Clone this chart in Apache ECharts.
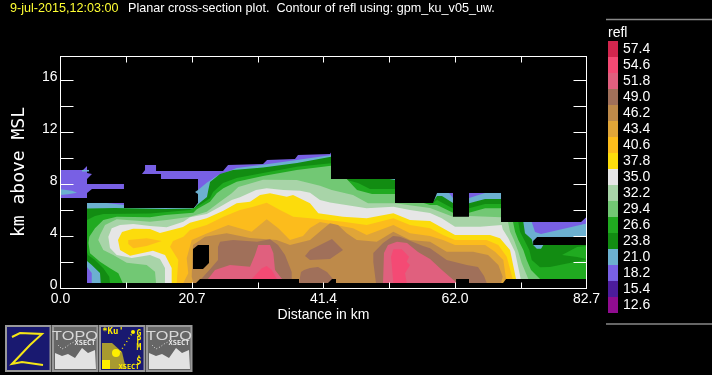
<!DOCTYPE html>
<html><head><meta charset="utf-8">
<style>html,body{margin:0;padding:0;background:#000}#c{width:712px;height:375px}</style>
<script src="https://cdn.jsdelivr.net/npm/echarts@6/dist/echarts.min.js"></script>
</head><body><div id="c"></div>
<script>
const titleDate = "9-jul-2015,12:03:00";
const titleText = "Planar cross-section plot.  Contour of refl using: gpm_ku_v05_uw.";
const xTickLabels = ["0.0","","20.7","","41.4","","62.0","","82.7"];
const yTickLabels = {0:"0",4:"4",8:"8",12:"12",16:"16"};
const legendLevels = ["57.4","54.6","51.8","49.0","46.2","43.4","40.6","37.8","35.0","32.2","29.4","26.6","23.8","21.0","18.2","15.4","12.6"];
const legendColors = ["#d2264e","#f44a74","#e0607e","#a0705a","#be8a4a","#e0a538","#fcbc1c","#fcdc0c","#e6e6e6","#a8d4a8","#72c874","#20aa20","#128c12","#6cb0d0","#7860e4","#4c1c9c","#900c90"];

// Contour regions, [distance km, height km], each region holds values >= its level
const band18 = [
 [[0,9.12],[3.54,9.12],[4.17,9.42],[4.17,8.88],[4.95,8.81],[4.17,8.42],[4.17,8.04],[9.98,8.04],[9.98,7.65],[4.95,7.65],[4.17,7.35],[4.17,6.96],[0,6.96]],
 [[4.17,.42],[4.17,6.58],[9.98,6.58],[9.98,6.19],[20.99,6.19],[21.62,6.58],[21.62,8.42],[15.8,8.42],[15.8,8.81],[12.81,8.81],[13.29,9.12],[13.29,9.5],[15.02,9.5],[15.02,9.04],[25.55,9.04],[26.34,9.5],[31.84,9.58],[32.47,9.88],[36.87,9.96],[37.34,10.27],[42.37,10.35],[42.53,10.46],[82.7,10.46],[82.7,.42]]
];
const band21 = [
 [[0,7.63],[1.81,7.52],[2.59,7.37],[1.18,7.25],[0,7.19]],
 [[3.38,9.12],[4.48,9.12],[4.48,9.0],[3.38,9.0]],
 [[4.17,1.65],[4.91,1.19],[4.91,.42],[82.7,.42],[82.7,5.0],[75.55,4.19],[74.61,4.35],[74.09,5.12],[69.26,7.58],[66.75,7.35],[64.23,6.96],[61.71,6.96],[61.08,7.35],[60.45,8.35],[42.53,10.27],[42.37,10.25],[37.14,9.88],[31.84,9.52],[27.7,9.27],[26.13,8.96],[24.56,8.65],[22.99,8.14],[21.62,7.58],[21.15,7.42],[21.62,7.27],[21.62,6.58],[20.99,6.19],[9.98,6.19],[9.98,6.42],[7.26,6.58],[4.17,6.58]]
];
const band24 = [
 [[4.17,6.15],[8.57,6.19],[16.43,6.12],[20.99,6.15],[21.46,6.42],[23.03,7.04],[23.24,7.58],[23.51,8.19],[25.08,8.81],[27.12,9.12],[31.84,9.31],[37.19,9.65],[42.53,10.14],[43.95,9.12],[52.59,8.35],[58.57,6.65],[59.2,7.12],[59.98,7.12],[61.71,6.58],[64.23,6.55],[66.75,6.88],[69.26,6.88],[70.68,5.65],[72.77,5.12],[73.03,4.25],[74.09,3.78],[74.31,3.35],[74.89,3.06],[75.55,3.06],[75.91,3.35],[82.7,3.35],[82.7,.42],[6.32,.42],[6.21,1.19],[4.91,1.81],[4.17,2.12]]
];
const band27 = [
 [[7.78,.42],[7.67,.91],[6.73,1.55],[5.42,2.19],[4.32,2.58],[4.17,2.81],[4.17,5.27],[5.42,5.58],[6.73,5.73],[14.07,5.77],[20.36,6.04],[21.93,6.42],[23.51,6.94],[23.98,7.42],[25.55,8.12],[27.7,8.5],[31.84,8.88],[37.14,9.37],[42.53,9.63],[44.42,8.42],[46.78,8.12],[48.66,7.65],[52.59,7.65],[58.57,6.96],[58.57,6.58],[59.2,6.81],[61.71,6.15],[64.23,6.17],[66.75,6.5],[69.26,6.5],[71.98,5.12],[72.25,4.37],[72.92,3.73],[73.71,2.96],[74.09,2.19],[75.39,1.63],[76.96,1.65],[82.7,2.23],[82.7,.42]],
 [[78.85,2.58],[81.21,3.19],[82.7,3.27],[82.7,2.27],[81.21,2.42]]
];
const band29 = [
 [[9.78,.42],[9.09,1.17],[7.78,1.55],[6.21,2.06],[4.64,2.71],[4.4,3.5],[4.53,3.98],[5.42,4.63],[6.73,5.27],[8.84,5.52],[14.07,5.48],[16.43,5.65],[20.88,5.83],[21.42,6.09],[23.51,6.68],[24.56,7.32],[25.6,7.71],[27.7,8.22],[31.84,8.65],[37.14,9.12],[42.53,9.45],[44.42,8.73],[46.62,7.58],[48.98,7.27],[52.59,7.27],[58.1,6.42],[59.2,6.42],[61.71,5.83],[64.23,5.83],[66.75,6.17],[69.26,6.17],[71.15,5.12],[71.47,4.37],[71.98,3.73],[72.77,2.96],[73.3,2.19],[73.98,1.42],[75.39,.73],[75.39,.42]]
];
const band32 = [
 [[15.02,.42],[14.86,1.29],[13.55,1.81],[10.41,1.98],[8.3,2.58],[6.73,2.96],[5.94,3.73],[6.21,4.12],[7.0,4.88],[8.84,5.32],[14.07,5.14],[16.7,5.27],[20.36,5.52],[22.99,5.91],[25.08,6.68],[26.92,7.32],[27.96,7.81],[31.84,8.36],[37.14,8.35],[40.8,7.91],[42.64,7.58],[45.99,7.19],[48.35,6.55],[52.59,6.55],[58.1,6.19],[61.71,5.52],[64.23,5.58],[69.26,5.48],[70.36,5.12],[70.68,4.37],[71.3,3.73],[71.98,2.83],[72.52,1.94],[73.55,.73],[73.55,.42]]
];
const band35 = [
 [[16.43,.42],[16.43,1.58],[15.64,2.27],[14.07,2.58],[11.19,2.35],[8.84,2.58],[7.78,3.12],[7.52,3.98],[8.05,4.63],[9.36,4.88],[11.45,4.96],[14.07,4.81],[16.7,4.71],[19.31,5.14],[20.36,5.48],[22.99,5.73],[25.08,6.29],[26.92,6.81],[28.22,7.02],[30.74,7.58],[32.42,7.71],[35.03,7.58],[37.66,7.52],[39.23,7.37],[40.8,6.81],[42.37,6.62],[48.14,6.17],[52.33,6.29],[54.95,6.04],[58.1,5.81],[59.94,5.4],[62.03,4.75],[65.96,4.75],[69.37,4.88],[69.53,4.55],[70.41,3.86],[71.46,2.83],[72.36,.73],[72.36,.42]]
];
const band38 = [
 [[17.48,.42],[17.48,1.58],[16.43,2.58],[14.54,2.91],[10.93,2.52],[9.36,2.96],[9.04,3.73],[9.67,4.35],[11.4,4.6],[14.07,4.58],[15.64,4.27],[19.26,4.73],[20.36,5.06],[22.99,5.4],[25.6,5.98],[27.7,6.55],[29.8,6.68],[31.37,7.19],[32.94,7.32],[35.57,7.06],[36.56,7.19],[39.23,6.55],[40.53,5.78],[44.42,5.52],[48.14,5.4],[52.33,5.78],[54.95,5.27],[58.1,5.19],[60.14,4.63],[62.03,4.12],[67.53,4.12],[69.1,3.86],[70.68,2.96],[71.62,.73],[71.62,.42]]
];
const band41 = [
 [[10.66,3.73],[13.55,3.86],[15.91,3.65],[13.55,3.27],[11.45,3.09],[10.66,3.42]],
 [[18.27,.42],[18.52,2.19],[17.22,3.22],[17.69,3.65],[19.31,3.98],[20.36,4.5],[22.99,4.88],[25.6,5.52],[28.22,6.04],[30.31,6.29],[32.42,6.6],[34.51,6.04],[36.6,5.52],[39.23,5.4],[44.42,5.14],[48.14,4.88],[52.33,5.4],[54.95,4.88],[58.1,4.63],[60.14,4.12],[62.03,3.73],[67.01,3.73],[68.84,3.35],[70.16,2.45],[71.1,.73],[71.1,.42]]
];
const band43 = [
 [[19.31,.42],[20.09,1.17],[19.84,2.32],[20.63,3.73],[23.07,4.25],[26.38,4.88],[30.06,4.37],[32.42,5.32],[34.25,4.63],[36.08,3.73],[38.13,4.04],[39.23,4.65],[40.8,5.12],[45.99,4.63],[48.14,4.12],[52.33,4.88],[54.95,4.25],[58.1,4.04],[60.14,3.73],[62.03,3.35],[66.75,3.35],[68.32,2.83],[69.62,2.19],[70.05,.73],[70.05,.42]]
];
const band46 = [
 [[20.88,.42],[20.63,.91],[20.83,3.35],[22.72,3.98],[26.13,4.25],[29.8,3.88],[33.99,3.73],[36.08,3.35],[39.23,3.73],[41.07,4.5],[42.37,5.02],[43.63,4.88],[45.0,4.25],[46.57,3.73],[49.72,3.6],[52.33,4.37],[54.95,3.73],[58.1,3.6],[60.72,2.83],[64.86,2.83],[67.22,2.58],[68.84,1.81],[69.53,.91],[69.26,.42]]
];
const band49 = [
 [[21.46,.42],[22.41,.88],[23.82,1.65],[24.76,2.19],[24.76,3.19],[25.08,3.6],[27.12,3.73],[30.9,3.6],[32.94,3.78],[34.2,3.35],[35.3,2.58],[36.35,1.27],[36.35,.73],[37.5,.42]],
 [[37.81,1.27],[38.29,1.42],[39.23,1.58],[40.49,1.65],[41.9,1.27],[42.84,.73],[43.32,.42],[37.5,.42]],
 [[38.44,2.5],[39.23,2.96],[40.8,3.35],[42.69,3.81],[44.42,2.96],[42.37,2.27],[39.23,2.19]],
 [[49.6,.42],[49.18,2.04],[49.18,2.73],[50.71,3.5],[52.28,4.04],[53.38,3.98],[57.0,3.27],[58.1,3.09],[60.72,2.19],[63.87,1.81],[65.64,1.65],[66.59,.96],[67.01,.42]]
];
const band52 = [
 [[22.72,.42],[23.19,.73],[24.29,1.42],[26.65,1.81],[29.8,1.68],[30.58,2.58],[31.1,3.35],[32.94,3.35],[33.46,2.73],[33.73,1.42],[34.83,.73],[35.3,.42]],
 [[50.71,.42],[50.86,2.73],[51.49,3.35],[52.91,3.6],[54.48,3.5],[56.21,2.81],[58.1,2.27],[60.14,1.35],[62.34,.42]]
];
const band55 = [
 [[30.06,.42],[30.06,.73],[31.63,1.55],[32.42,1.73],[33.21,1.42],[34.04,.73],[34.04,.42]],
 [[52.33,.42],[51.97,2.45],[52.33,3.02],[53.65,3.02],[54.8,2.45],[54.43,2.06],[54.95,1.81],[54.17,1.17],[54.43,.42]]
];
// Areas with no data, cut out of the contours
const noData = [
 [[42.53,11.42],[42.53,8.42],[52.59,8.42],[52.59,6.58],[58.57,6.58],[59.2,7.35],[61.71,7.35],[61.71,5.52],[64.23,5.52],[64.23,7.35],[69.26,7.35],[69.26,5.12],[81.84,5.12],[82.7,5.5],[82.7,11.42]],
 [[74.31,3.35],[74.31,3.65],[74.94,3.96],[82.7,3.96],[82.7,3.35]],
 [[21.3,.42],[21.93,.73],[37.5,.73],[37.5,.42]],
 [[42.06,.42],[42.69,.73],[43.32,.73],[43.32,.42]],
 [[62.19,.42],[62.19,.73],[64.23,.73],[64.23,.42]],
 [[69.58,.42],[70.05,.73],[82.7,.73],[82.7,.42]],
 [[20.83,3.04],[21.62,3.35],[23.35,3.35],[23.35,1.96],[22.41,1.5],[20.83,1.5]]
];

const colorOf = l => legendColors[legendLevels.indexOf(l)];
const layers = [
 [band18,colorOf("18.2")],[band21,colorOf("21.0")],[band24,colorOf("23.8")],[band27,colorOf("26.6")],
 [band29,colorOf("29.4")],[band32,colorOf("32.2")],[band35,colorOf("35.0")],[band38,colorOf("37.8")],
 [band41,colorOf("40.6")],[band43,colorOf("43.4")],[band46,colorOf("46.2")],[band49,colorOf("49.0")],
 [band52,colorOf("51.8")],[band55,colorOf("54.6")],[noData,"#000"]
];
const contourSeries = layers.map(([polys,color],k)=>({
  type:'custom', xAxisIndex:0, yAxisIndex:0, z:2+k*0.01, silent:true, animation:false,
  data:polys.map((p,i)=>[p[0][0],p[0][1],i]),
  encode:{x:0,y:1},
  renderItem:(params,api)=>({
    type:'polygon',
    shape:{points:polys[api.value(2)].map(pt=>api.coord(pt))},
    style:{fill:color}
  })
}));

const labelFont = 'Liberation Sans';
const W='#fff';
const xT = (extra)=>Object.assign({type:'value',gridIndex:0,min:0,max:82.7,interval:82.7/8,z:10,splitLine:{show:false},
  axisLine:{show:true,onZero:false,lineStyle:{color:W,width:1}},axisTick:{show:true,inside:true,length:6,lineStyle:{color:W,width:1}}},extra);
const yT = (extra)=>Object.assign({type:'value',gridIndex:0,min:0,max:232/13,interval:2,z:10,splitLine:{show:false},
  axisLine:{show:true,onZero:false,lineStyle:{color:W,width:1}},axisTick:{show:true,inside:true,length:13,lineStyle:{color:W,width:1}}},extra);

function topoIcon(dx){
  return {type:'group',x:dx,y:0,children:[
    {type:'rect',shape:{x:53,y:326,width:44.5,height:45},style:{fill:'#666',stroke:'#999',lineWidth:2}},
    {type:'polygon',shape:{points:[[55,353],[62,356],[68,354],[75,358],[82,348],[88,353],[95,350],[96,369],[55,369]]},style:{fill:'#e2e2e2'}},
    {type:'text',x:75,y:336,scaleX:1.25,style:{text:'TOPO',fill:'#d8d8d8',font:'13px "Liberation Sans"',align:'center',verticalAlign:'middle'}},
    {type:'text',x:85,y:343.5,style:{text:'XSECT',fill:'#e8e8e8',font:'bold 7px "DejaVu Sans Mono"',align:'center',verticalAlign:'middle'}},
    {type:'polyline',shape:{points:[[58,345],[62,349],[66,347],[70,344],[74,342]]},style:{stroke:'#ddd',lineWidth:1,lineDash:[1,2],fill:null}}
  ]};
}
const chart = echarts.init(document.getElementById('c'),null,{renderer:'canvas'});
chart.setOption({
  backgroundColor:'#000', animation:false,
  title:[
    {text:titleDate,left:10,top:2,padding:0,textStyle:{color:'#ffff33',fontFamily:labelFont,fontSize:12.6,fontWeight:'normal'}},
    {text:titleText,left:128,top:2,padding:0,textStyle:{color:W,fontFamily:labelFont,fontSize:12.6,fontWeight:'normal'}},
    {text:'refl',left:608,top:26,padding:0,textStyle:{color:W,fontFamily:labelFont,fontSize:14,fontWeight:'normal'}},
    {text:'Distance in km',left:323.5,top:308,textAlign:'center',padding:0,textStyle:{color:W,fontFamily:labelFont,fontSize:14,fontWeight:'normal'}}
  ],
  grid:[
    {left:60.5,top:56.5,width:526,height:232},
    {left:608,top:41,width:10,height:272}
  ],
  xAxis:[
    xT({position:'bottom',axisLabel:{color:W,fontFamily:labelFont,fontSize:14,margin:4,showMinLabel:true,showMaxLabel:true,hideOverlap:false,
      formatter:(v,i)=>xTickLabels[i]??''}}),
    xT({position:'top',axisLabel:{show:false}}),
    {type:'value',gridIndex:1,min:0,max:1,show:false}
  ],
  yAxis:[
    yT({position:'left',axisLabel:{color:W,fontFamily:labelFont,fontSize:14,margin:3,verticalAlign:'bottom',lineHeight:6,showMinLabel:true,showMaxLabel:true,hideOverlap:false,
      formatter:v=>yTickLabels[Math.round(v)]!==undefined&&Math.abs(v-Math.round(v))<1e-6?yTickLabels[Math.round(v)]:''}}),
    yT({position:'right',axisLabel:{show:false}}),
    {type:'category',gridIndex:1,position:'right',inverse:true,data:legendLevels,
     axisLine:{show:false},axisTick:{show:false},
     axisLabel:{color:W,fontFamily:labelFont,fontSize:14,margin:5,interval:0,padding:[2,0,0,0]}}
  ],
  series:contourSeries.concat([{
    type:'bar',xAxisIndex:2,yAxisIndex:2,barWidth:'100%',silent:true,animation:false,
    data:legendLevels.map((l,i)=>({value:1,itemStyle:{color:legendColors[i]}}))
  }]),
  graphic:[
    {type:'line',shape:{x1:606,y1:19.5,x2:712,y2:19.5},style:{stroke:'#888',lineWidth:1.5}},
    {type:'line',shape:{x1:606,y1:324,x2:712,y2:324},style:{stroke:'#888',lineWidth:1.5}},
    {type:'text',x:19,y:172,rotation:Math.PI/2,style:{text:'km above MSL',fill:W,font:'18px "DejaVu Sans Mono"',align:'center',verticalAlign:'middle'}},
    {type:'rect',shape:{x:6,y:326,width:44.5,height:45},style:{fill:'#191970',stroke:'#999',lineWidth:2}},
    {type:'polyline',shape:{points:[[12,337],[20,333],[42,334],[30,345],[12,364],[22,362],[43,365]]},style:{stroke:'#f5e616',lineWidth:2,fill:null}},
    topoIcon(0),
    {type:'rect',shape:{x:100,y:326,width:44.5,height:45},style:{fill:'#191970',stroke:'#999',lineWidth:2}},
    {type:'polygon',shape:{points:[[102,343],[112,343],[122,352],[126,369],[102,369]]},style:{fill:'#a89a30'}},
    {type:'polygon',shape:{points:[[102,360],[110,360],[110,369],[102,369]]},style:{fill:'#ffee00'}},
    {type:'circle',shape:{cx:116,cy:353,r:4},style:{fill:'#ffee00'}},
    {type:'text',x:113,y:332,style:{text:"*Ku'",fill:'#ffee00',font:'bold 9px "DejaVu Sans Mono"',align:'center',verticalAlign:'middle'}},
    {type:'polyline',shape:{points:[[120,352],[133,332]]},style:{stroke:'#ffee00',lineWidth:1.5,lineDash:[1,3],fill:null}},
    {type:'circle',shape:{cx:133,cy:332,r:2},style:{fill:'#ffee00'}},
    {type:'text',x:139,y:348,style:{text:"G\nP\nM\n.\nS",fill:'#ffee00',font:'bold 8px "DejaVu Sans Mono"',lineHeight:7,align:'center',verticalAlign:'middle'}},
    {type:'text',x:129,y:367,style:{text:'XSECT',fill:'#ffee00',font:'bold 7px "DejaVu Sans Mono"',align:'center',verticalAlign:'middle'}},
    topoIcon(94)
  ]
});
</script></body></html>
